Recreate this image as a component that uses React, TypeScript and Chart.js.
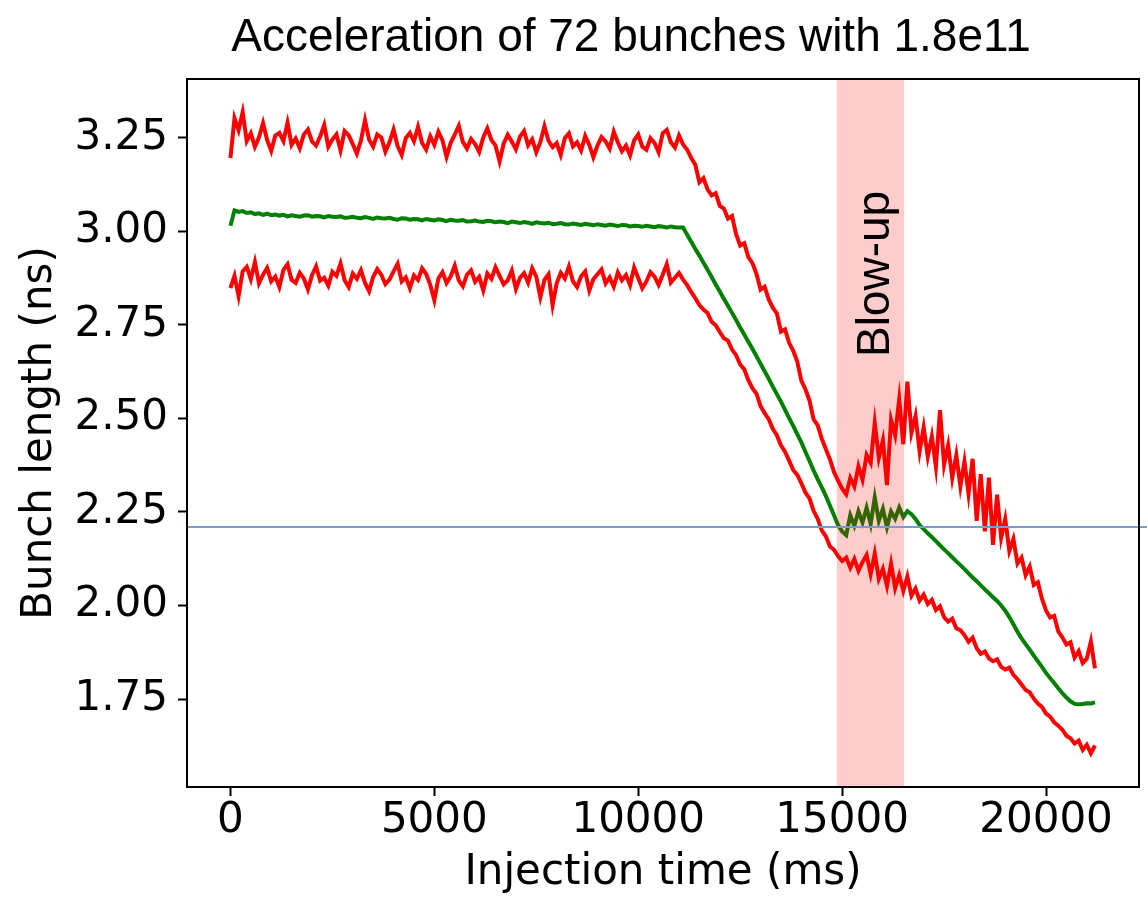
import { useEffect, useRef } from "react";
import { Chart, registerables } from "chart.js";

Chart.register(...registerables);

// Bunch length samples, one every SAMPLE_MS of the cycle (ns)
const SAMPLE_MS = 100;

const UPPER_NS = [
  3.196, 3.302, 3.270, 3.318, 3.241, 3.262, 3.226, 3.251, 3.289, 3.244,
  3.215, 3.256, 3.263, 3.241, 3.290, 3.231, 3.248, 3.222, 3.259, 3.272,
  3.240, 3.229, 3.253, 3.284, 3.226, 3.245, 3.259, 3.216, 3.268, 3.257,
  3.233, 3.208, 3.242, 3.297, 3.245, 3.226, 3.259, 3.251, 3.213, 3.238,
  3.272, 3.228, 3.204, 3.249, 3.263, 3.241, 3.279, 3.236, 3.218, 3.254,
  3.231, 3.266, 3.243, 3.199, 3.236, 3.258, 3.282, 3.239, 3.221, 3.247,
  3.233, 3.212, 3.251, 3.275, 3.244, 3.229, 3.187, 3.234, 3.258, 3.240,
  3.219, 3.253, 3.268, 3.230, 3.246, 3.211, 3.238, 3.281, 3.242, 3.225,
  3.236, 3.204, 3.249, 3.262, 3.227, 3.238, 3.216, 3.255, 3.231, 3.198,
  3.229, 3.252, 3.240, 3.221, 3.266, 3.238, 3.214, 3.229, 3.203, 3.243,
  3.259, 3.226, 3.218, 3.249, 3.236, 3.211, 3.262, 3.271, 3.238, 3.224,
  3.256, 3.232, 3.218, 3.196, 3.178, 3.131, 3.142, 3.112, 3.096, 3.102,
  3.068, 3.061, 3.034, 3.041, 2.992, 2.962, 2.968, 2.931, 2.915, 2.886,
  2.844, 2.852, 2.818, 2.796, 2.781, 2.732, 2.738, 2.702, 2.681, 2.652,
  2.601, 2.578, 2.548, 2.497, 2.482, 2.446, 2.418, 2.391, 2.357, 2.334,
  2.312, 2.297, 2.341, 2.318, 2.372, 2.336, 2.402, 2.381, 2.488, 2.395,
  2.441, 2.322, 2.496, 2.455, 2.551, 2.431, 2.598, 2.462, 2.507, 2.412,
  2.476, 2.398, 2.452, 2.371, 2.522, 2.376, 2.428, 2.341, 2.402, 2.318,
  2.385, 2.298, 2.392, 2.226, 2.351, 2.198, 2.342, 2.162, 2.296, 2.181,
  2.231, 2.146, 2.178, 2.112, 2.128, 2.081, 2.104, 2.055, 2.062, 2.018,
  1.987, 1.968, 1.972, 1.931, 1.915, 1.896, 1.902, 1.861, 1.878, 1.846,
  1.858, 1.904, 1.832,
];

const MEAN_NS = [
  3.015, 3.056, 3.052, 3.054, 3.049, 3.051, 3.046, 3.048, 3.044, 3.047,
  3.043, 3.045, 3.042, 3.044, 3.040, 3.043, 3.041, 3.039, 3.042, 3.043,
  3.039, 3.041, 3.040, 3.037, 3.041, 3.039, 3.038, 3.040, 3.036, 3.037,
  3.039, 3.036, 3.035, 3.038, 3.036, 3.033, 3.037, 3.035, 3.034, 3.036,
  3.033, 3.031, 3.035, 3.034, 3.031, 3.033, 3.032, 3.029, 3.033, 3.031,
  3.029, 3.032, 3.030, 3.027, 3.031, 3.029, 3.028, 3.030, 3.026, 3.027,
  3.029, 3.026, 3.025, 3.028, 3.027, 3.024, 3.026, 3.025, 3.022, 3.026,
  3.024, 3.022, 3.025, 3.023, 3.020, 3.024, 3.022, 3.021, 3.023, 3.019,
  3.020, 3.022, 3.019, 3.018, 3.021, 3.019, 3.017, 3.020, 3.018, 3.016,
  3.019, 3.017, 3.015, 3.018, 3.016, 3.014, 3.017, 3.016, 3.013, 3.015,
  3.014, 3.012, 3.015, 3.013, 3.011, 3.014, 3.012, 3.010, 3.013, 3.011,
  3.010, 3.010, 2.991, 2.972, 2.953, 2.935, 2.916, 2.897, 2.878, 2.858,
  2.839, 2.820, 2.801, 2.782, 2.763, 2.743, 2.724, 2.705, 2.686, 2.666,
  2.646, 2.626, 2.606, 2.585, 2.565, 2.545, 2.523, 2.501, 2.480, 2.458,
  2.436, 2.411, 2.386, 2.361, 2.338, 2.316, 2.293, 2.267, 2.241, 2.215,
  2.198, 2.188, 2.241, 2.213, 2.252, 2.222, 2.261, 2.218, 2.289, 2.226,
  2.258, 2.209, 2.251, 2.232, 2.262, 2.236, 2.252, 2.244, 2.231, 2.215,
  2.204, 2.193, 2.183, 2.172, 2.161, 2.150, 2.140, 2.129, 2.118, 2.108,
  2.097, 2.086, 2.075, 2.065, 2.054, 2.043, 2.033, 2.022, 2.012, 2.000,
  1.986, 1.969, 1.950, 1.930, 1.912, 1.897, 1.882, 1.866, 1.851, 1.836,
  1.820, 1.806, 1.793, 1.779, 1.766, 1.754, 1.744, 1.737, 1.736, 1.737,
  1.739, 1.738, 1.741,
];

const LOWER_NS = [
  2.848, 2.881, 2.827, 2.893, 2.905, 2.872, 2.918, 2.861, 2.884, 2.902,
  2.866, 2.879, 2.851, 2.897, 2.912, 2.870, 2.862, 2.889, 2.874, 2.845,
  2.883, 2.906, 2.868, 2.876, 2.855, 2.892, 2.881, 2.914, 2.869, 2.851,
  2.887, 2.873, 2.896, 2.862, 2.840, 2.878, 2.899, 2.884, 2.859, 2.871,
  2.893, 2.913, 2.866, 2.877, 2.848, 2.882, 2.870, 2.901, 2.886, 2.857,
  2.816, 2.874, 2.891, 2.862, 2.879, 2.908, 2.869, 2.853, 2.884, 2.896,
  2.865, 2.878, 2.842, 2.887, 2.873, 2.904, 2.881, 2.858, 2.869, 2.895,
  2.846, 2.876, 2.888, 2.863, 2.901, 2.879, 2.824, 2.870, 2.885, 2.803,
  2.861, 2.889, 2.874, 2.906, 2.866, 2.851, 2.880, 2.893, 2.842, 2.872,
  2.885, 2.898, 2.861, 2.877, 2.852, 2.890, 2.869, 2.883, 2.856, 2.903,
  2.875, 2.848, 2.866, 2.891, 2.879, 2.857, 2.884, 2.912, 2.863, 2.876,
  2.889, 2.871, 2.856, 2.838, 2.821, 2.803, 2.791, 2.782, 2.758, 2.749,
  2.731, 2.714, 2.708, 2.684, 2.669, 2.644, 2.631, 2.602, 2.581, 2.566,
  2.533, 2.514, 2.498, 2.472, 2.455, 2.428, 2.411, 2.387, 2.362, 2.349,
  2.327, 2.302, 2.286, 2.253, 2.232, 2.201, 2.185, 2.158, 2.149, 2.132,
  2.119, 2.128, 2.101, 2.124, 2.093, 2.116, 2.135, 2.084, 2.139, 2.071,
  2.098, 2.052, 2.112, 2.046, 2.081, 2.039, 2.078, 2.026, 2.045, 2.013,
  2.029, 2.004, 2.015, 1.988, 1.998, 1.969, 1.957, 1.965, 1.939, 1.934,
  1.921, 1.903, 1.914, 1.886, 1.871, 1.877, 1.859, 1.851, 1.856, 1.836,
  1.829, 1.834, 1.815, 1.803, 1.789, 1.774, 1.768, 1.751, 1.738, 1.729,
  1.711, 1.703, 1.688, 1.679, 1.668, 1.652, 1.645, 1.631, 1.639, 1.614,
  1.628, 1.605, 1.626,
];

const X_TICKS = [0, 5000, 10000, 15000, 20000];
const Y_TICKS = [1.75, 2.0, 2.25, 2.5, 2.75, 3.0, 3.25];

// Longitudinal blow-up window (ms) and target bunch length (ns)
const BLOWUP_START_MS = 14870;
const BLOWUP_END_MS = 16520;
const TARGET_NS = 2.21;

const TITLE = "Acceleration of 72 bunches with 1.8e11";
const X_LABEL = "Injection time (ms)";
const Y_LABEL = "Bunch length (ns)";
const BLOWUP_LABEL = "Blow-up";

const WIDTH = 1147;
const HEIGHT = 898;
const AXIS_FONT = { family: "'DejaVu Sans'", size: 42 };

const toPoints = (values: number[]) =>
  values.map((v, i) => ({ x: i * SAMPLE_MS, y: v }));

const annotations = {
  id: "annotations",
  afterDatasetsDraw(chart: any) {
    const { ctx, chartArea: a } = chart;
    const xs = chart.scales.x;
    const ys = chart.scales.y;
    ctx.save();

    // shaded blow-up window
    const x0 = xs.getPixelForValue(BLOWUP_START_MS);
    const x1 = xs.getPixelForValue(BLOWUP_END_MS);
    ctx.fillStyle = "rgba(255, 0, 0, 0.2)";
    ctx.fillRect(x0, a.top, x1 - x0, a.bottom - a.top);

    // target length reference line
    const yt = ys.getPixelForValue(TARGET_NS);
    ctx.strokeStyle = "#7899d4";
    ctx.lineWidth = 2;
    ctx.beginPath();
    ctx.moveTo(a.left, yt);
    ctx.lineTo(chart.width, yt);
    ctx.stroke();

    // axes frame
    ctx.strokeStyle = "#000";
    ctx.lineWidth = 2;
    ctx.strokeRect(a.left, a.top, a.right - a.left, a.bottom - a.top);

    // window label
    ctx.save();
    ctx.translate(xs.getPixelForValue(16150), ys.getPixelForValue(2.886));
    ctx.rotate(-Math.PI / 2);
    ctx.font = "46px 'Liberation Sans'";
    ctx.fillStyle = "#000";
    ctx.textAlign = "center";
    ctx.textBaseline = "alphabetic";
    ctx.fillText(BLOWUP_LABEL, 0, 0);
    ctx.restore();

    // title
    ctx.font = "46px 'Liberation Sans'";
    ctx.fillStyle = "#000";
    ctx.textAlign = "center";
    ctx.textBaseline = "alphabetic";
    ctx.fillText(TITLE, 631, 51);

    ctx.restore();
  },
};

const lineStyle = (color: string) => ({
  borderColor: color,
  borderWidth: 4,
  pointRadius: 0,
  tension: 0,
});

export default function App() {
  const canvasRef = useRef<HTMLCanvasElement>(null);

  useEffect(() => {
    document.body.style.margin = "0";
    const canvas = canvasRef.current;
    if (!canvas) return;

    const chart = new Chart(canvas, {
      type: "line",
      data: {
        datasets: [
          { label: "upper", data: toPoints(UPPER_NS), ...lineStyle("#ff0000") },
          { label: "mean", data: toPoints(MEAN_NS), ...lineStyle("#008000") },
          { label: "lower", data: toPoints(LOWER_NS), ...lineStyle("#ff0000") },
        ],
      },
      options: {
        responsive: false,
        animation: false,
        devicePixelRatio: 1,
        parsing: false,
        layout: { padding: { left: 0, right: 8, top: 79, bottom: 0 } },
        plugins: {
          legend: { display: false },
          tooltip: { enabled: false },
          title: { display: false },
        },
        scales: {
          x: {
            type: "linear",
            min: -1065,
            max: 22280,
            afterBuildTicks: (s: any) => {
              s.ticks = X_TICKS.map((v) => ({ value: v }));
            },
            afterFit: (s: any) => {
              s.height = 111;
            },
            ticks: {
              color: "#000",
              font: AXIS_FONT,
              padding: 0,
              maxRotation: 0,
              autoSkip: false,
              callback: (v: any) => String(v),
            },
            grid: {
              drawOnChartArea: false,
              drawTicks: true,
              tickLength: 9,
              tickWidth: 2,
              tickColor: "#000",
            },
            border: { display: false },
            title: {
              display: true,
              text: X_LABEL,
              color: "#000",
              font: AXIS_FONT,
              padding: { top: 0, bottom: 0 },
            },
          },
          y: {
            type: "linear",
            min: 1.515,
            max: 3.407,
            afterBuildTicks: (s: any) => {
              s.ticks = Y_TICKS.map((v) => ({ value: v }));
            },
            afterFit: (s: any) => {
              s.width = 187;
            },
            ticks: {
              color: "#000",
              font: AXIS_FONT,
              padding: 10,
              autoSkip: false,
              callback: (v: any) => Number(v).toFixed(2),
            },
            grid: {
              drawOnChartArea: false,
              drawTicks: true,
              tickLength: 9,
              tickWidth: 2,
              tickColor: "#000",
            },
            border: { display: false },
            title: {
              display: true,
              text: Y_LABEL,
              color: "#000",
              font: AXIS_FONT,
              padding: { top: 15, bottom: 0 },
            },
          },
        },
      },
      plugins: [annotations],
    } as any);

    return () => chart.destroy();
  }, []);

  return (
    <div style={{ width: WIDTH, height: HEIGHT }}>
      <canvas
        ref={canvasRef}
        width={WIDTH}
        height={HEIGHT}
        style={{ display: "block" }}
      />
    </div>
  );
}
